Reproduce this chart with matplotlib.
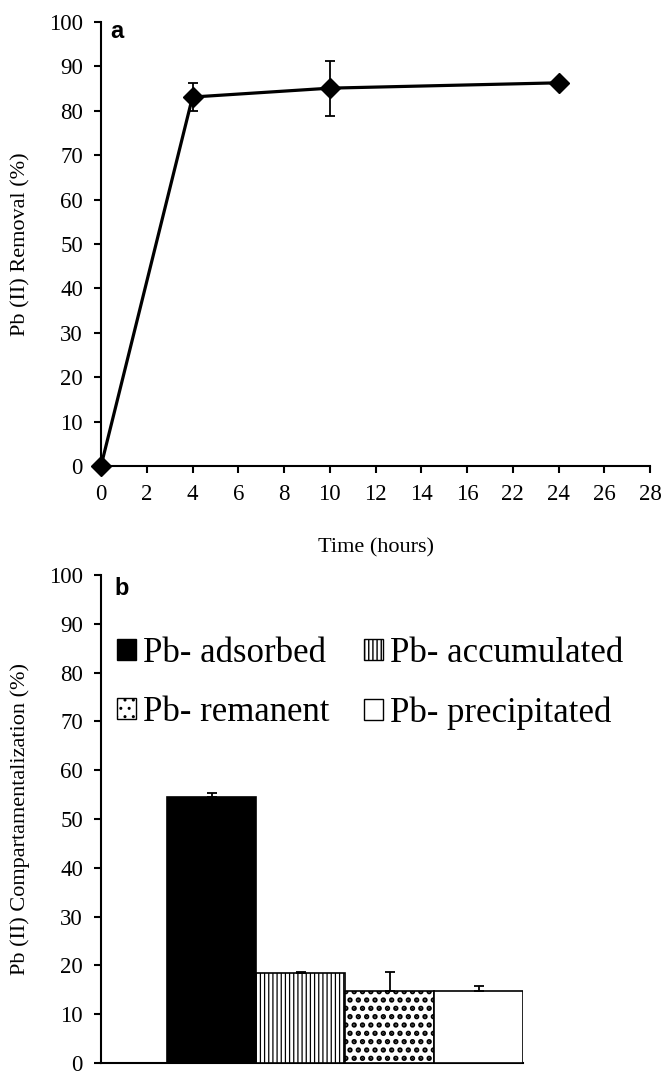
import numpy as np
import matplotlib.pyplot as plt
from matplotlib.patches import Patch

plt.rcParams['font.family'] = ['Liberation Serif', 'DejaVu Serif']

# ---------------- data ----------------
# panel a: removal over time
jam_tick = [0, 2, 4, 6, 8, 10, 12, 14, 16, 22, 24, 26, 28]
jam = [0, 4, 10, 24]
removal = [0, 83.1, 85.1, 86.3]
removal_err = [0, 3.1, 6.2, 0]

# panel b: compartmentalization
kategori = ['Pb- adsorbed', 'Pb- accumulated', 'Pb- remanent', 'Pb- precipitated']
persen = [54.5, 18.4, 14.8, 14.8]
persen_err = [0.8, 0.3, 3.9, 1.0]
warna = ['black', 'white', 'white', 'white']
hatch = [None, '||||', '..', None]
# --------------------------------------

W, H = 664, 1072
fig = plt.figure(figsize=(W/100, H/100), dpi=100)

# ---------------- panel a ----------------
a_l, a_r, a_t, a_b = 101, 650, 22, 466
ax1 = fig.add_axes([a_l/W, 1 - a_b/H, (a_r - a_l)/W, (a_b - a_t)/H])
# the x axis in the original is categorical (ticks evenly spaced)
posisi = [jam_tick.index(j) for j in jam]
ax1.errorbar(posisi, removal, yerr=removal_err, color='black', lw=2.3,
             marker='D', ms=10, mfc='black', mec='black',
             ecolor='black', elinewidth=1.3, capsize=3.8, capthick=1.3,
             clip_on=False, zorder=5)
ax1.set_xlim(0, len(jam_tick) - 1)
ax1.set_ylim(0, 100)
ax1.set_xticks(range(len(jam_tick)))
ax1.set_xticklabels([str(t) for t in jam_tick])
ax1.set_yticks(range(0, 101, 10))
ax1.set_xlabel('Time (hours)', fontsize=16, labelpad=24)
ax1.set_ylabel('Pb (II) Removal (%)', fontsize=16)
ax1.yaxis.set_label_coords((30 - a_l)/(a_r - a_l), 0.5)
ax1.text((110 - a_l)/(a_r - a_l), (a_b - 38)/(a_b - a_t), 'a',
         transform=ax1.transAxes, fontsize=17, fontweight='bold',
         family='Liberation Sans', va='baseline', ha='left')

# ---------------- panel b ----------------
b_l, b_r, b_t, b_b = 101, 523, 575, 1063
ax2 = fig.add_axes([b_l/W, 1 - b_b/H, (b_r - b_l)/W, (b_b - b_t)/H])
x = np.arange(len(kategori))
bars = ax2.bar(x, persen, width=1.0, color=warna, edgecolor='black',
               linewidth=1.2, zorder=3)
for b, h in zip(bars, hatch):
    if h:
        b.set_hatch(h)
        if hasattr(b, 'set_hatch_linewidth'):
            b.set_hatch_linewidth(2.6 if h == '..' else 0.9)
ax2.errorbar(x, persen, yerr=[[0]*len(persen), persen_err], fmt='none',
             ecolor='black', elinewidth=1.3, capsize=3.8, capthick=1.3, zorder=4)
ax2.set_xlim(-1.245, 3.5)
ax2.set_ylim(0, 100)
ax2.set_xticks([])
ax2.set_yticks(range(0, 101, 10))
ax2.set_ylabel('Pb (II) Compartamentalization (%)', fontsize=16)
ax2.yaxis.set_label_coords((30 - b_l)/(b_r - b_l), 0.5)
ax2.text((114 - b_l)/(b_r - b_l), (b_b - 595)/(b_b - b_t), 'b',
         transform=ax2.transAxes, fontsize=17, fontweight='bold',
         family='Liberation Sans', va='baseline', ha='left')

handles = []
for k, w, h in zip(kategori, warna, hatch):
    p = Patch(facecolor=w, edgecolor='black', hatch=h, linewidth=1.0, label=k)
    handles.append(p)
# legend order: row1 adsorbed, accumulated; row2 remanent, precipitated
urut = [handles[0], handles[2], handles[1], handles[3]]
leg = ax2.legend(handles=urut, ncol=2, loc='upper left',
                 bbox_to_anchor=((117 - b_l)/(b_r - b_l), (b_b - 637)/(b_b - b_t)),
                 frameon=False, fontsize=25, borderpad=0,
                 handlelength=0.55, handleheight=0.55, handletextpad=0.2,
                 columnspacing=1.0, labelspacing=0.75, borderaxespad=0)

for ax in (ax1, ax2):
    ax.spines['top'].set_visible(False)
    ax.spines['right'].set_visible(False)
    ax.spines['left'].set_linewidth(1.5)
    ax.spines['bottom'].set_linewidth(1.5)
    ax.tick_params(axis='both', direction='out', length=5, width=1.5,
                   labelsize=16.5, colors='black', pad=8)

fig.savefig('out.png', dpi=100)
